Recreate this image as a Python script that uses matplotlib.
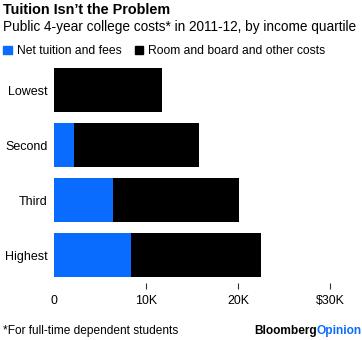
import matplotlib
matplotlib.use("Agg")
import matplotlib.pyplot as plt

categories = ["Lowest", "Second", "Third", "Highest"]
tuition = [0.0, 2.25, 6.4, 8.35]          # thousands of $
room_board = [11.8, 13.55, 13.65, 14.15]  # thousands of $
xticks = [0, 10, 20, 30]
xticklabels = ["0", "10K", "20K", "$30K"]

BLUE = "#0a6cff"
plt.rcParams['font.family'] = ['Liberation Sans', 'DejaVu Sans']

W, H = 362, 340
fig = plt.figure(figsize=(W / 100, H / 100), dpi=100)

def fx(px):
    return px / W

def fy(py):
    return 1 - py / H

ax = fig.add_axes([fx(53.5), fy(283), fx(353.5) - fx(53.5), fy(62.8) - fy(283)])
ypos = list(range(len(categories)))
ax.barh(ypos, tuition, height=0.8, color=BLUE, edgecolor="none")
ax.barh(ypos, room_board, left=tuition, height=0.8, color="black", edgecolor="none")
ax.set_ylim(len(categories) - 0.5, -0.5)
ax.set_xlim(0, 32.5)
ax.set_yticks(ypos)
ax.set_yticklabels(categories, fontsize=9.0)
ax.tick_params(axis="y", length=0, pad=4)
ax.set_xticks(xticks)
ax.set_xticklabels(xticklabels, fontsize=8.9)
ax.tick_params(axis="x", length=4.5, width=0.8, color="#333333", pad=4)
ax.get_xticklines()[0].set_visible(False)
for s in ax.spines.values():
    s.set_visible(False)

fig.text(fx(3), fy(14), "Tuition Isn\u2019t the Problem", fontsize=10.4, fontweight="bold",
         va="baseline", ha="left")
fig.text(fx(3), fy(31.5), "Public 4-year college costs* in 2011-12, by income quartile",
         fontsize=9.8, va="baseline", ha="left")

# legend
fig.patches.append(plt.Rectangle((fx(3.3), fy(53.5)), fx(8.5), fy(46.5) - fy(53.5),
                                 transform=fig.transFigure, color=BLUE))
fig.text(fx(17.3), fy(54), "Net tuition and fees", fontsize=8.7, va="baseline", ha="left")
fig.patches.append(plt.Rectangle((fx(135), fy(53.5)), fx(7.7), fy(46.5) - fy(53.5),
                                 transform=fig.transFigure, color="black"))
fig.text(fx(147.7), fy(54), "Room and board and other costs", fontsize=8.7,
         va="baseline", ha="left")

fig.text(fx(3), fy(334), "*For full-time dependent students", fontsize=8.6,
         va="baseline", ha="left")
t2 = fig.text(fx(362), fy(334), "Opinion", fontsize=8.6, fontweight="bold", color=BLUE,
              va="baseline", ha="right")
fig.canvas.draw()
bb = t2.get_window_extent()
fig.text(bb.x0 / fig.dpi / fig.get_figwidth(), fy(334), "Bloomberg", fontsize=8.6,
         fontweight="bold", color="black", va="baseline", ha="right")

fig.savefig("out.png", dpi=100)
